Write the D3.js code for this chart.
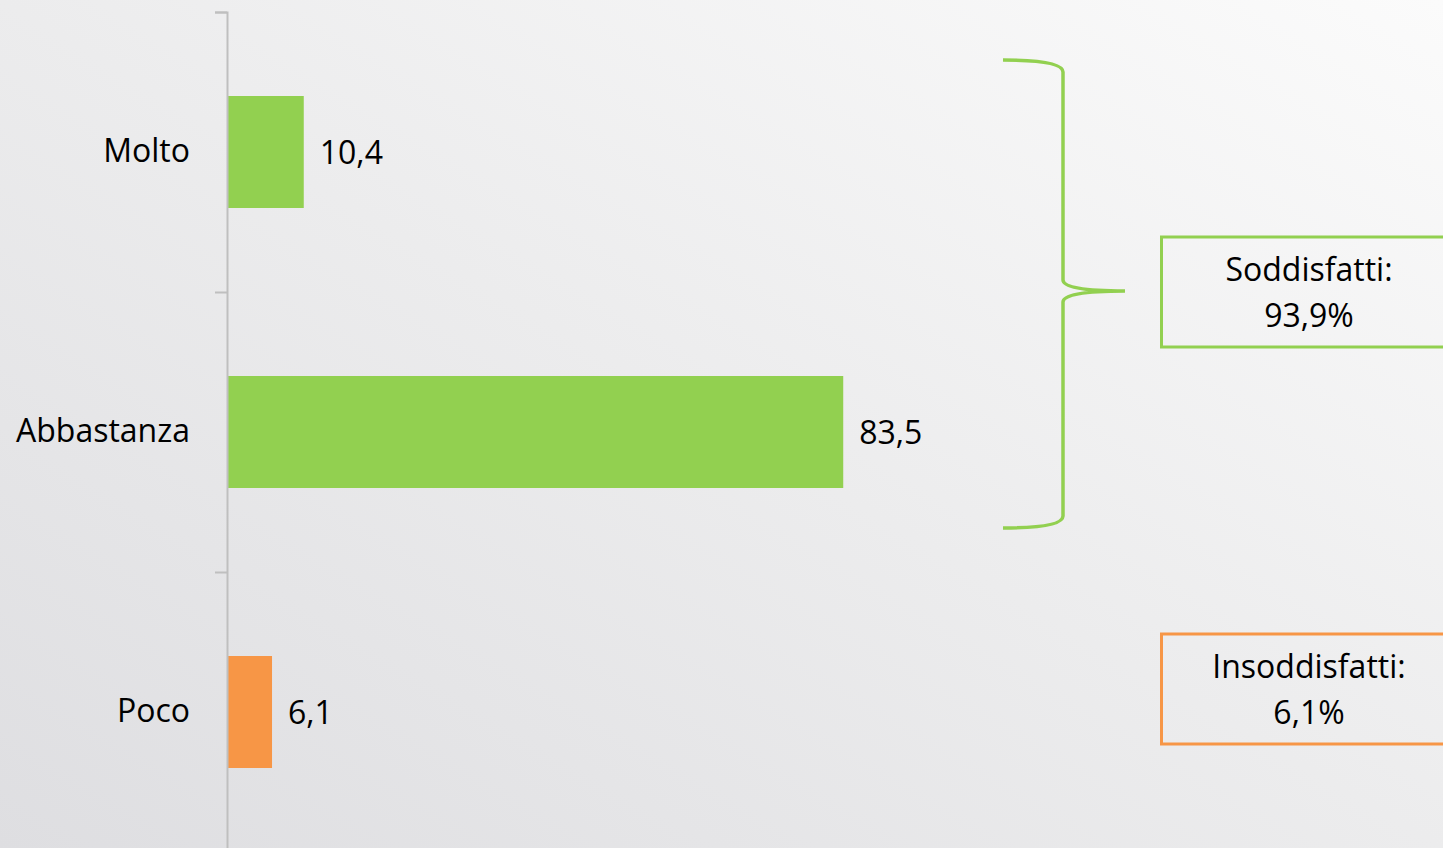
<!DOCTYPE html>
<html>
<head>
<meta charset="utf-8">
<script src="https://cdn.jsdelivr.net/npm/d3@7"></script>
<style>
  html, body { margin: 0; padding: 0; overflow: hidden; }
  svg { display: block; }
  text { font-family: "Open Sans", "Noto Sans", sans-serif; fill: #000; }
</style>
</head>
<body>
<script>
// data
var categories = ["Molto", "Abbastanza", "Poco"];
var values = [10.4, 83.5, 6.1];
var barColors = ["#92d050", "#92d050", "#f79646"];
var valueLabels = ["10,4", "83,5", "6,1"];
var boxTitles = ["Soddisfatti:", "Insoddisfatti:"];
var boxValues = ["93,9%", "6,1%"];

var W = 1443, H = 848;
var axisX = 227;
var fs = "32px";

var svg = d3.select("body").append("svg")
    .attr("width", W)
    .attr("height", H);

// background gradient
var defs = svg.append("defs");
var grad = defs.append("linearGradient")
    .attr("id", "bg")
    .attr("x1", "0").attr("y1", "1")
    .attr("x2", "1").attr("y2", "0");
grad.append("stop").attr("offset", "0").attr("stop-color", "#dedee1");
grad.append("stop").attr("offset", "0.5").attr("stop-color", "#ececed");
grad.append("stop").attr("offset", "1").attr("stop-color", "#fbfbfb");
svg.append("rect").attr("width", W).attr("height", H).attr("fill", "url(#bg)");

// scales
var y = d3.scaleBand()
    .domain(categories)
    .range([12, 852])
    .paddingInner(0.6)
    .paddingOuter(0.3);
var x = d3.scaleLinear().domain([0, 100]).range([axisX, axisX + 738]);
var yEdge = d3.scaleLinear().domain([0, categories.length]).range([12, 852]);

// bars
svg.selectAll("rect.bar")
    .data(categories)
    .enter()
    .append("rect")
    .attr("class", "bar")
    .attr("x", x(0))
    .attr("y", function(d) { return y(d); })
    .attr("width", function(d, i) { return x(values[i]) - x(0); })
    .attr("height", y.bandwidth())
    .attr("fill", function(d, i) { return barColors[i]; });

// value labels
svg.selectAll("text.val")
    .data(categories)
    .enter()
    .append("text")
    .attr("class", "val")
    .attr("x", function(d, i) { return x(values[i]) + 16; })
    .attr("y", function(d) { return y(d) + y.bandwidth() / 2; })
    .attr("dy", "0.36em")
    .style("font-size", fs)
    .text(function(d, i) { return valueLabels[i]; });

// axis line + ticks at band edges
var edgeAxis = d3.axisLeft(yEdge)
    .tickValues(d3.range(categories.length + 1))
    .tickSize(12)
    .tickFormat("");
var ga = svg.append("g")
    .attr("transform", "translate(" + axisX + ",0)")
    .call(edgeAxis);
ga.selectAll("path, line").attr("stroke", "#bfbfbf").attr("stroke-width", 2);

// category labels
var catAxis = d3.axisLeft(y).tickSize(0).tickPadding(37);
var gc = svg.append("g")
    .attr("transform", "translate(" + axisX + ",0)")
    .call(catAxis);
gc.select(".domain").remove();
gc.selectAll("text")
    .style("font-size", fs)
    .style("font-family", "'Open Sans', 'Noto Sans', sans-serif")
    .attr("fill", "#000");

// brace
svg.append("path")
    .attr("d", "M1003,60 Q1063,60 1063,72 L1063,280 Q1063,291 1125,291 Q1063,291 1063,302 L1063,516 Q1063,528 1003,528")
    .attr("fill", "none")
    .attr("stroke", "#92d050")
    .attr("stroke-width", 3.5);

// annotation boxes
var boxes = [
  {y: 237, color: "#92d050"},
  {y: 634, color: "#f79646"}
];
boxes.forEach(function(b, i) {
  svg.append("rect")
      .attr("x", 1161.5).attr("y", b.y)
      .attr("width", 300).attr("height", 110)
      .attr("fill", "none")
      .attr("stroke", b.color)
      .attr("stroke-width", 3);
  svg.append("text")
      .attr("x", 1309).attr("y", b.y + 44)
      .attr("text-anchor", "middle")
      .style("font-size", fs)
      .text(boxTitles[i]);
  svg.append("text")
      .attr("x", 1309).attr("y", b.y + 90)
      .attr("text-anchor", "middle")
      .style("font-size", fs)
      .text(boxValues[i]);
});
</script>
</body>
</html>
